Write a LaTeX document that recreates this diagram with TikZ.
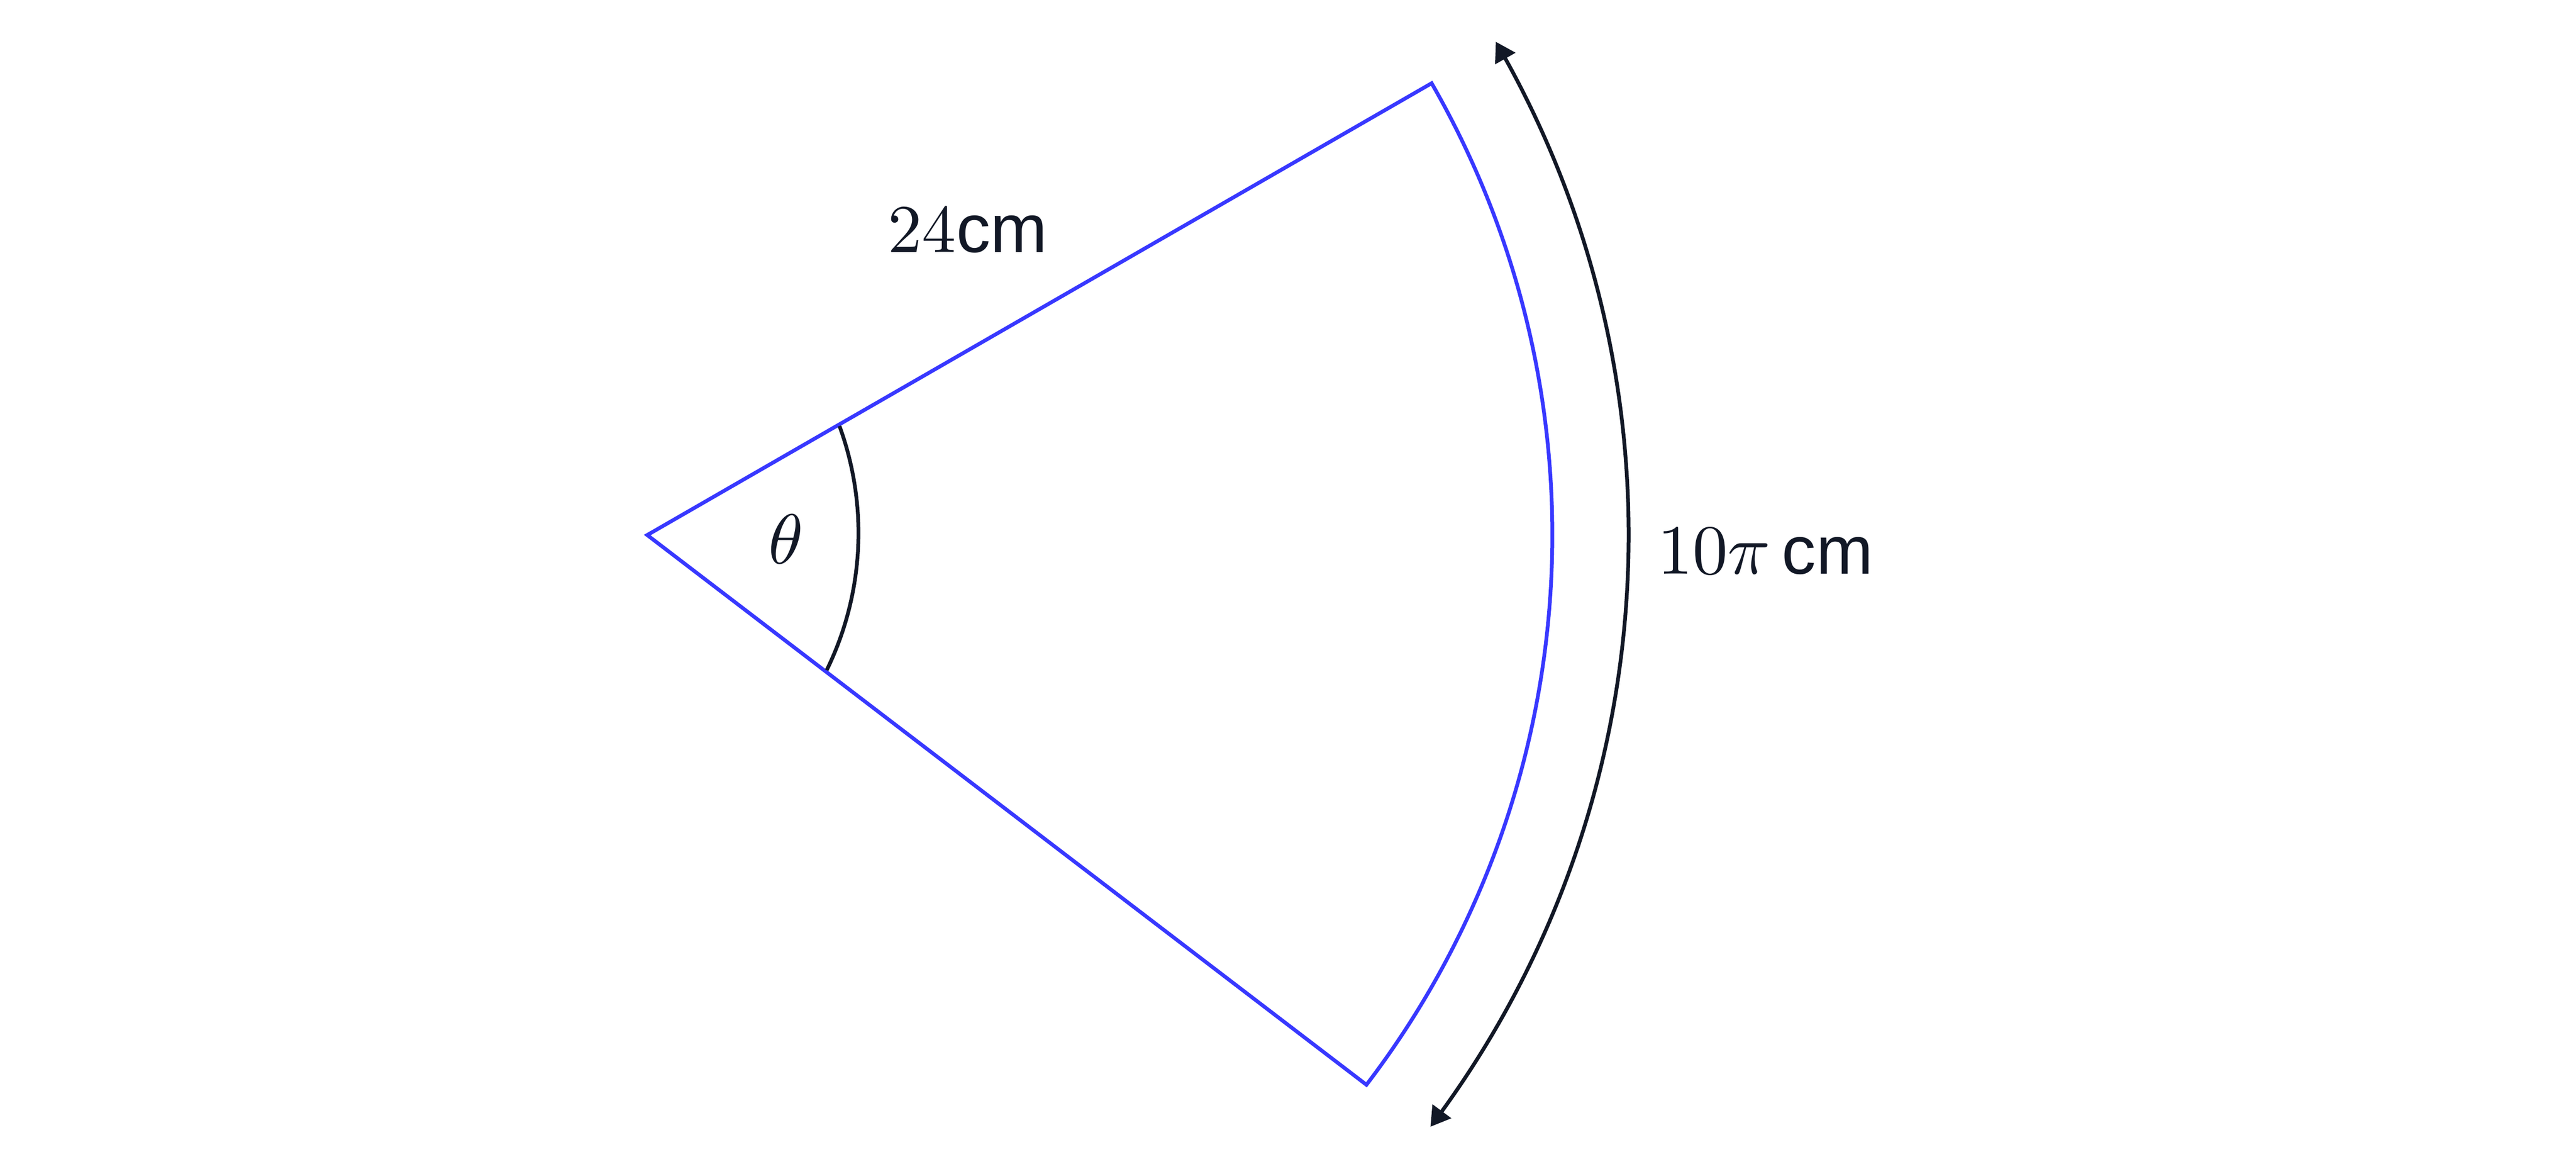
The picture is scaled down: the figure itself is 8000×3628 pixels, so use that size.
\documentclass[tikz,border=0pt]{standalone}
\usepackage{fontspec}
\newfontfamily\unitfont{Liberation Sans}
\usetikzlibrary{arrows.meta,bending}
\definecolor{sectorblue}{HTML}{3838FF}
\definecolor{inkdark}{HTML}{121826}
\begin{document}
\begin{tikzpicture}[x=0.05pt,y=0.05pt,
  font=\fontsize{10.6}{12}\selectfont,
  sector/.style={draw=sectorblue,line width=0.58pt,line join=miter},
  measure/.style={draw=inkdark,line width=0.58pt},
  lbl/.style={text=inkdark,inner sep=0pt,anchor=base},
  tip/.style={}]
\useasboundingbox (0,0) rectangle (8000,3628);
\coordinate (O) at (2010,1967);
\coordinate (T) at ([shift={(29.93:2811)}]O);
\coordinate (C) at (1699,1973);
\draw[sector] (O) -- (T) arc[start angle=29.93,end angle=-37.38,radius=2811] -- cycle;
\draw[measure] ([shift={(20.1:967)}]C) arc[start angle=20.1,end angle=-26.1,radius=967];
\draw[measure,{Triangle[length=3pt,width=3.5pt,flex]}-{Triangle[length=3pt,width=3.5pt,flex]}]
  ([shift={(30.16:3048)}]O) arc[start angle=30.16,end angle=-37.06,radius=3048];
\node[lbl] (radiuslabel) at (3005,2845) {24{\unitfont cm}};
\node[lbl] (arclabel) at (5482,1847) {$10\pi$\,{\unitfont cm}};
\node[lbl] (anglelabel) at (2441,1878) {$\theta$};
\end{tikzpicture}
\end{document}
